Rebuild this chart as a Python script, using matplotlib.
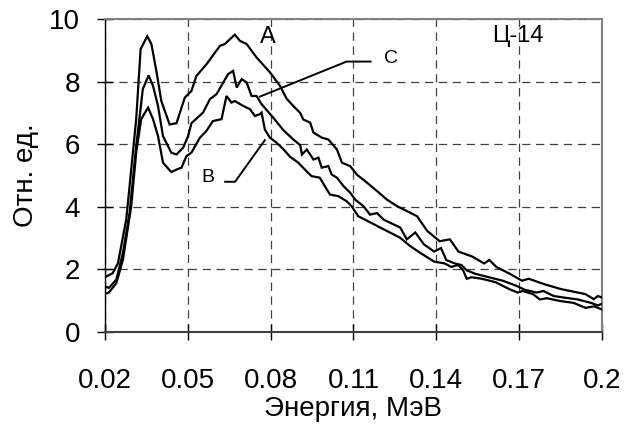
import matplotlib
matplotlib.use("Agg")
import matplotlib.pyplot as plt

plt.rcParams['font.family'] = ['Liberation Sans', 'DejaVu Sans']
plt.rcParams['lines.scale_dashes'] = False

# Curve A (top)
xa = [0.0200, 0.0228, 0.0247, 0.0277, 0.0289, 0.0313, 0.0329, 0.0353, 0.0368, 0.0386,
      0.0404, 0.0434, 0.0459, 0.0489, 0.0513, 0.0531, 0.0568, 0.0616, 0.0634, 0.0670,
      0.0689, 0.0713, 0.0749, 0.0798, 0.0834, 0.0858, 0.0882, 0.0907, 0.0918, 0.0943,
      0.0955, 0.0985, 0.1009, 0.1040, 0.1058, 0.1088, 0.1112, 0.1149, 0.1179, 0.1221,
      0.1258, 0.1294, 0.1330, 0.1367, 0.1412, 0.1449, 0.1480, 0.1530, 0.1573, 0.1592,
      0.1617, 0.1666, 0.1710, 0.1735, 0.1790, 0.1852, 0.1940, 0.1970, 0.1985, 0.2000]
ya = [1.75, 1.88, 2.2, 3.6, 4.66, 6.8, 9.04, 9.45, 9.2, 8.34,
      7.38, 6.63, 6.67, 7.49, 7.7, 8.18, 8.56, 9.14, 9.2, 9.5,
      9.3, 9.2, 8.77, 8.29, 7.86, 7.45, 7.22, 7.0, 6.79, 6.69,
      6.37, 6.21, 6.15, 5.83, 5.41, 5.3, 5.03, 4.77, 4.55, 4.23,
      4.02, 3.86, 3.7, 3.23, 2.9, 2.96, 2.57, 2.41, 2.19, 2.3,
      2.08, 1.86, 1.64, 1.7, 1.53, 1.37, 1.21, 1.05, 1.15, 1.1]

# Curve C (middle)
xc = [0.0200, 0.0214, 0.0241, 0.0265, 0.0289, 0.0313, 0.0337, 0.0358, 0.0374, 0.0392,
      0.0410, 0.0440, 0.0459, 0.0483, 0.0501, 0.0513, 0.0555, 0.0580, 0.0604, 0.0646,
      0.0664, 0.0677, 0.0695, 0.0713, 0.0731, 0.0749, 0.0767, 0.0809, 0.0846, 0.0882,
      0.0907, 0.0913, 0.0931, 0.0955, 0.0973, 0.0985, 0.1009, 0.1021, 0.1040, 0.1064,
      0.1088, 0.1106, 0.1136, 0.1160, 0.1185, 0.1209, 0.1269, 0.1293, 0.1324, 0.1355,
      0.1392, 0.1417, 0.1436, 0.1467, 0.1491, 0.1510, 0.1541, 0.1590, 0.1640, 0.1689,
      0.1720, 0.1763, 0.1788, 0.1825, 0.1862, 0.1912, 0.1960, 0.1985, 0.2000]
yc = [1.45, 1.41, 1.67, 2.53, 3.8, 5.94, 7.76, 8.2, 7.86, 7.22,
      6.26, 5.73, 5.67, 5.89, 6.26, 6.67, 7.01, 7.44, 7.6, 8.24,
      8.34, 7.81, 8.08, 7.97, 7.54, 7.54, 7.28, 6.85, 6.45, 6.15,
      5.97, 5.67, 5.83, 5.51, 5.57, 5.25, 5.3, 5.03, 4.93, 4.66,
      4.45, 4.23, 4.02, 3.75, 3.8, 3.59, 3.34, 2.96, 3.18, 2.8,
      2.57, 2.68, 2.3, 2.19, 2.14, 1.97, 1.86, 1.75, 1.64, 1.48,
      1.35, 1.26, 1.31, 1.15, 1.1, 1.04, 0.93, 0.85, 0.9]

# Curve B (bottom)
xb = [0.0200, 0.0214, 0.0241, 0.0265, 0.0295, 0.0313, 0.0331, 0.0356, 0.0374, 0.0392,
      0.0410, 0.0440, 0.0459, 0.0477, 0.0495, 0.0513, 0.0543, 0.0567, 0.0591, 0.0622,
      0.0640, 0.0658, 0.0670, 0.0701, 0.0725, 0.0743, 0.0761, 0.0767, 0.0779, 0.0797,
      0.0821, 0.0845, 0.0870, 0.0900, 0.0924, 0.0948, 0.0978, 0.0996, 0.1015, 0.1045,
      0.1075, 0.1093, 0.1117, 0.1269, 0.1306, 0.1343, 0.1392, 0.1430, 0.1454, 0.1479,
      0.1497, 0.1510, 0.1528, 0.1565, 0.1615, 0.1664, 0.1695, 0.1713, 0.1750, 0.1775,
      0.1800, 0.1848, 0.1897, 0.1941, 0.1971, 0.2000]
yb = [1.22, 1.26, 1.56, 2.31, 4.02, 5.73, 6.8, 7.17, 6.8, 6.26,
      5.41, 5.11, 5.19, 5.25, 5.62, 5.73, 6.2, 6.42, 6.74, 6.8,
      7.54, 7.33, 7.38, 7.22, 7.12, 6.9, 6.96, 7.01, 6.47, 6.21,
      6.05, 5.85, 5.6, 5.41, 5.19, 4.98, 4.93, 4.66, 4.39, 4.34,
      4.18, 4.02, 3.7, 3.01, 2.74, 2.52, 2.25, 2.19, 2.08, 2.14,
      1.97, 1.7, 1.75, 1.7, 1.59, 1.37, 1.26, 1.31, 1.21, 1.04,
      1.08, 0.99, 0.93, 0.77, 0.82, 0.72]

xticks = [0.02, 0.05, 0.08, 0.11, 0.14, 0.17, 0.2]
xtick_labels = ['0.02', '0.05', '0.08', '0.11', '0.14', '0.17', '0.2']
yticks = [0, 2, 4, 6, 8, 10]

# annotation labels and leader lines (data coords)
labels = ['A', 'Ц-14', 'C', 'B']
label_x = [0.0790, 0.1696, 0.1236, 0.0573]
label_y = [9.43, 9.46, 8.74, 4.95]
label_size = [17, 17, 14, 14]
leader_c_x = [0.0761, 0.1075, 0.1162]
leader_c_y = [7.52, 8.64, 8.64]
leader_b_x = [0.0635, 0.0671, 0.0779]
leader_b_y = [4.80, 4.80, 6.13]

fig = plt.figure(figsize=(6.25, 4.24), dpi=100)
ax = fig.add_axes([105/625, 1 - 332/424, (602 - 105)/625, (332 - 19)/424])

for xs, ys in ((xa, ya), (xc, yc), (xb, yb)):
    ax.plot(xs, ys, color='black', lw=1.6, solid_joinstyle='miter', zorder=3)

ax.set_xlim(0.02, 0.2)
ax.set_ylim(0, 10)
ax.set_xticks(xticks)
ax.set_xticklabels(xtick_labels)
ax.set_yticks(yticks)

ax.grid(True, color='#404040', lw=0.9, linestyle=(0, (6, 4)))
ax.set_axisbelow(True)

for s in ('top', 'right'):
    ax.spines[s].set_color('#808080')
    ax.spines[s].set_linewidth(1.5)
ax.spines['left'].set_color('black')
ax.spines['left'].set_linewidth(1.0)
ax.spines['bottom'].set_color('#404040')
ax.spines['bottom'].set_linewidth(1.5)

ax.tick_params(axis='both', direction='inout', length=12, width=1.0, colors='black',
               labelsize=20)
ax.tick_params(axis='x', pad=20)
ax.tick_params(axis='y', pad=12)

ax.set_xlabel('Энергия, МэВ', fontsize=20, labelpad=1)
ax.set_ylabel('Отн. ед.', fontsize=20, labelpad=7)

for t, lx, ly, fs in zip(labels, label_x, label_y, label_size):
    ax.text(lx, ly, t, fontsize=fs, ha='center', va='center')

ax.plot(leader_c_x, leader_c_y, color='black', lw=1.4, zorder=4)
ax.plot(leader_b_x, leader_b_y, color='black', lw=1.4, zorder=4)

fig.savefig('out.png', dpi=100)
